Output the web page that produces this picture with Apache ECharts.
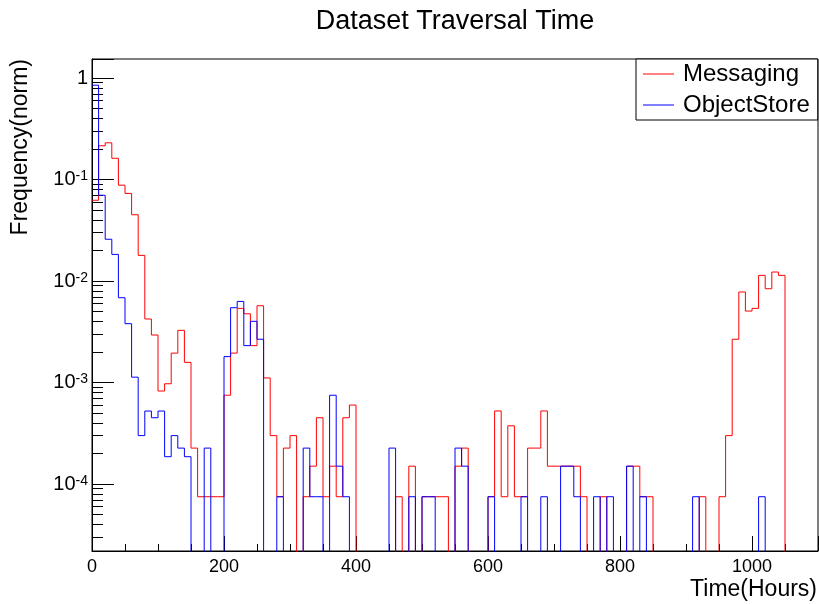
<!DOCTYPE html>
<html>
<head>
<meta charset="utf-8">
<title>Dataset Traversal Time</title>
<script src="https://cdn.jsdelivr.net/npm/echarts@6/dist/echarts.min.js"></script>
<style>
  html, body { margin: 0; padding: 0; background: #fff; }
  #main { width: 819px; height: 604px; }
</style>
</head>
<body>
<div id="main"></div>
<script>
// histogram range: 110 bins of 10 hours
var xMin = 0;
var xMax = 1100;
var binWidth = 10;

var seriesNames = ['Messaging', 'ObjectStore'];

// normalised frequency per bin (0 = empty bin)
var messaging = [
    0.0625, 0.215, 0.23, 0.162, 0.088, 0.073, 0.045, 0.0179, 0.00423, 0.00294,
    0.000825, 0.000973, 0.00195, 0.00327, 0.00158, 0.000226, 7.5e-5, 7.5e-5, 7.5e-5, 7.5e-5,
    0.00075, 0.00195, 0.00538, 0.00476, 0.00231, 0.00571, 0.00111, 0.0003, 7.5e-5, 0.000226,
    0.0003, 0, 7.5e-5, 0.00015, 0.00045, 7.5e-5, 0.00015, 7.5e-5, 0.00045, 0.0006,
    0, 0, 0, 0, 0, 0, 7.5e-5, 0, 0.00015, 0,
    7.5e-5, 7.5e-5, 7.5e-5, 7.5e-5, 0, 0.00015, 0.000226, 0, 0, 0,
    7.5e-5, 0.000525, 7.5e-5, 0.000375, 7.5e-5, 7.5e-5, 0.000226, 0.000226, 0.000525, 0.00015,
    0.00015, 0.00015, 0.00015, 0.00015, 7.5e-5, 0, 0, 7.5e-5, 0, 0,
    0, 0.00015, 0.00015, 7.5e-5, 7.5e-5, 0, 0, 0, 0, 0,
    0, 0, 7.5e-5, 0, 0, 7.5e-5, 0.0003, 0.00267, 0.0078, 0.00506,
    0.00538, 0.01138, 0.0084, 0.01227, 0.01138, 0, 0, 0, 0, 0
];
var objectStore = [
    0.85, 0.07, 0.0258, 0.0183, 0.00685, 0.0038, 0.00113, 0.0003, 0.000524, 0.00045,
    0.000524, 0.000186, 0.0003, 0.000226, 0.000186, 0, 0, 0.000226, 0, 0,
    0.0018, 0.00546, 0.0063, 0.00231, 0.00401, 0.00267, 0, 0, 7.5e-5, 0,
    0, 0, 0.000226, 7.5e-5, 7.5e-5, 0, 0.00075, 0.00015, 7.5e-5, 0,
    0, 0, 0, 0, 0, 0.000226, 0, 0, 7.5e-5, 0,
    7.5e-5, 7.5e-5, 0, 0, 0, 0.000226, 0.00015, 0, 0, 0,
    7.5e-5, 0, 0, 0, 0, 7.5e-5, 0, 0, 7.5e-5, 0,
    0, 0.00015, 0.00015, 7.5e-5, 0, 0, 7.5e-5, 0, 7.5e-5, 0,
    0, 0.00015, 0, 7.5e-5, 0, 0, 0, 0, 0, 0,
    0, 7.5e-5, 0, 0, 0, 0, 0, 0, 0, 0,
    0, 7.5e-5, 0, 0, 0, 0, 0, 0, 0, 0
];

var yMin = 2.19e-5;
var yMax = 1.54;
var font = 'Liberation Sans';

// empty bins go far below the frame and get clipped, like ROOT does
var floorValue = 1e-9;

var toSteps = function(values) {
    var pts = [];
    for (var i = 0; i < values.length; i++) {
        pts.push([xMin + i * binWidth, values[i] > 0 ? values[i] : floorValue]);
    }
    var last = values[values.length - 1];
    pts.push([xMin + values.length * binWidth, last > 0 ? last : floorValue]);
    return pts;
};

var decadeLabel = function(v) {
    var lg = Math.log10(v);
    var e = Math.round(lg);
    if (Math.abs(lg - e) > 1e-6) {
        return '';
    }
    if (e === 0) {
        return '{b|1}';
    }
    return '{b|10}{s|' + e + '}';
};

var myChart = echarts.init(document.getElementById('main'));
var option = {
    "animation": false,
    "backgroundColor": "#fff",
    "textStyle": {
        "fontFamily": font
    },
    "title": {
        "text": "Dataset Traversal Time",
        "left": 455,
        "top": 8,
        "padding": 0,
        "textAlign": "center",
        "textStyle": {
            "fontFamily": font,
            "fontSize": 27,
            "fontWeight": "normal",
            "color": "#000"
        }
    },
    "legend": {
        "orient": "vertical",
        "left": 636,
        "top": 59,
        "padding": [3, 8, 3, 7],
        "itemGap": 7,
        "itemWidth": 31,
        "itemHeight": 1,
        "icon": "rect",
        "backgroundColor": "#fff",
        "borderColor": "#000",
        "borderWidth": 1,
        "borderRadius": 0,
        "textStyle": {
            "fontFamily": font,
            "fontSize": 24,
            "color": "#000",
            "padding": [0, 0, 0, 4]
        },
        "data": seriesNames
    },
    "grid": {
        "left": 92,
        "right": 1,
        "top": 59,
        "bottom": 53,
        "outerBoundsMode": "none",
        "containLabel": false,
        "show": true,
        "borderColor": "#000",
        "borderWidth": 1,
        "backgroundColor": "#fff"
    },
    "xAxis": [{
        "type": "value",
        "position": "bottom",
        "min": xMin,
        "max": xMax,
        "interval": 200,
        "name": "Time(Hours)",
        "nameLocation": "end",
        "nameGap": -1,
        "nameMoveOverlap": false,
        "nameTextStyle": {
            "fontFamily": font,
            "fontSize": 23,
            "color": "#000",
            "align": "right",
            "verticalAlign": "top",
            "padding": [27, 0, 0, 0]
        },
        "axisLine": { "show": true, "lineStyle": { "color": "#000", "width": 1 } },
        "axisTick": { "show": true, "inside": true, "length": 15, "lineStyle": { "color": "#000" } },
        "axisLabel": {
            "show": true,
            "margin": 7,
            "fontSize": 18,
            "color": "#000",
            "formatter": function(v) { return v % 200 === 0 ? String(v) : ''; }
        },
        "splitLine": { "show": false }
    }, {
        // secondary ticks every 50 hours
        "type": "value",
        "position": "bottom",
        "min": xMin,
        "max": xMax,
        "interval": 50,
        "axisLine": { "show": false },
        "axisTick": { "show": true, "inside": true, "length": 7, "lineStyle": { "color": "#000" } },
        "axisLabel": { "show": false },
        "splitLine": { "show": false }
    }],
    "yAxis": {
        "type": "log",
        "logBase": 10,
        "min": yMin,
        "max": yMax,
        "name": "Frequency(norm)",
        "nameLocation": "end",
        "nameGap": 0,
        "nameRotate": 90,
        "nameMoveOverlap": false,
        "nameTextStyle": {
            "fontFamily": font,
            "fontSize": 23,
            "color": "#000",
            "align": "right",
            "verticalAlign": "bottom",
            "padding": [0, 0, 60, 0]
        },
        "axisLine": { "show": true, "lineStyle": { "color": "#000", "width": 1 } },
        "axisTick": { "show": true, "inside": true, "length": 22, "lineStyle": { "color": "#000" } },
        "minorTick": { "show": true, "splitNumber": 9, "length": 11, "lineStyle": { "color": "#000" } },
        "axisLabel": {
            "show": true,
            "interval": 0,
            "margin": 4,
            "color": "#000",
            "formatter": decadeLabel,
            "rich": {
                "b": { "fontFamily": font, "fontSize": 20, "lineHeight": 20, "color": "#000" },
                "s": { "fontFamily": font, "fontSize": 14, "lineHeight": 14, "color": "#000",
                       "verticalAlign": "top", "padding": [0, 0, 20, 0] }
            }
        },
        "splitLine": { "show": false },
        "minorSplitLine": { "show": false }
    },
    "series": [{
        "name": seriesNames[0],
        "type": "line",
        "step": "end",
        "symbol": "none",
        "clip": true,
        "data": toSteps(messaging),
        "itemStyle": { "color": "#ff0000" },
        "lineStyle": { "color": "#ff0000", "width": 1 }
    }, {
        "name": seriesNames[1],
        "type": "line",
        "step": "end",
        "symbol": "none",
        "clip": true,
        "data": toSteps(objectStore),
        "itemStyle": { "color": "#0000ff" },
        "lineStyle": { "color": "#0000ff", "width": 1 }
    }]
};
myChart.setOption(option);
</script>
</body>
</html>
